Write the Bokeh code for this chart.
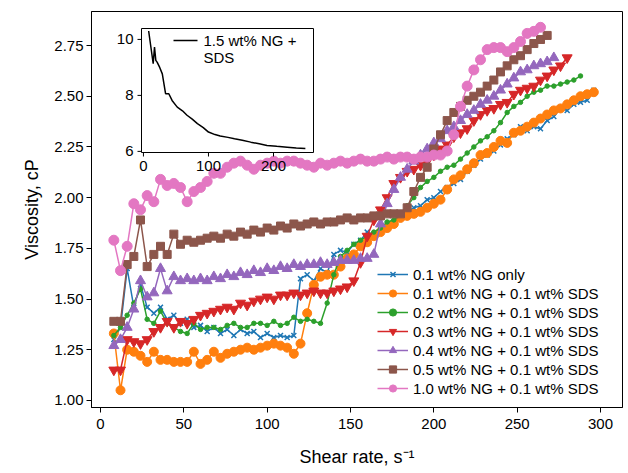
from bokeh.plotting import figure
from bokeh.models import (Range1d, FixedTicker, NumeralTickFormatter, Legend,
                          LegendItem, ColumnDataSource)
from bokeh.core.properties import value
from bokeh.embed import file_html
from bokeh.resources import INLINE

FONT = "Liberation Sans"

# ---------------- data ----------------
shear_rate = [8, 12, 16, 20, 24, 28, 32, 36, 40, 44, 48, 52, 56, 60, 64, 68, 72, 76,
              80, 84, 88, 92, 96, 100, 104, 108, 112, 116, 120, 124, 128, 132, 136,
              140, 144, 148, 152, 156, 160, 164, 168, 172, 176, 180, 184, 188, 192,
              196, 200, 204, 208, 212, 216, 220, 224, 228, 232, 236, 240, 244, 248,
              252, 256, 260, 264, 268, 272, 276, 280, 284, 288, 292, 296]

ng_only = [1.30, 1.36, 1.65, 1.46, 1.57, 1.46, 1.43, 1.46, 1.40, 1.42,
           1.38, 1.40, 1.36, 1.37, 1.34, 1.36, 1.33, 1.35, 1.32, 1.35,
           1.33, 1.34, 1.31, 1.33, 1.31, 1.32, 1.31, 1.32, 1.60, 1.62,
           1.59, 1.65, 1.63, 1.72, 1.74, 1.73, 1.77, 1.79, 1.83, 1.82,
           1.85, 1.87, 1.88, 1.91, 1.93, 1.95, 1.96, 1.99, 2.00, 2.03,
           2.05, 2.07, 2.09, 2.13, 2.16, 2.19, 2.21, 2.23, 2.26, 2.29,
           2.31, 2.35, 2.33, 2.35, 2.34, 2.38, 2.40, 2.44, 2.43, 2.46,
           2.47, 2.48, 2.53]

ng01_sds = [1.33, 1.05, 1.25, 1.24, 1.22, 1.19, 1.24, 1.20, 1.20, 1.19,
            1.19, 1.19, 1.24, 1.18, 1.20, 1.24, 1.21, 1.23, 1.24, 1.25,
            1.26, 1.25, 1.26, 1.27, 1.28, 1.27, 1.26, 1.23, 1.28, 1.43,
            1.57, 1.61, 1.62, 1.62, 1.66, 1.70, 1.72, 1.76, 1.78, 1.81,
            1.83, 1.85, 1.87, 1.90, 1.91, 1.92, 1.93, 1.95, 1.97, 1.99,
            2.04, 2.09, 2.11, 2.14, 2.17, 2.21, 2.22, 2.25, 2.28, 2.27,
            2.32, 2.33, 2.35, 2.37, 2.39, 2.41, 2.43, 2.44, 2.46, 2.48,
            2.50, 2.51, 2.52]

ng02_sds = [1.32, 1.36, 1.42, 1.48, 1.55, 1.40, 1.38, 1.44, 1.38, 1.36,
            1.34, 1.33, 1.38, 1.35, 1.36, 1.36, 1.35, 1.37, 1.38, 1.36,
            1.36, 1.38, 1.38, 1.37, 1.39, 1.37, 1.38, 1.41, 1.39, 1.40,
            1.39, 1.38, 1.48, 1.62, 1.71, 1.74, 1.77, 1.79, 1.81, 1.83,
            1.85, 1.88, 1.89, 1.92, 1.96, 2.00, 2.05, 2.08, 2.10, 2.13,
            2.15, 2.16, 2.19, 2.22, 2.25, 2.28, 2.30, 2.33, 2.37, 2.42,
            2.45, 2.47, 2.50, 2.52, 2.53, 2.55, 2.55, 2.56, 2.57, 2.58,
            2.60]

ng03_sds = [1.15, 1.15, 1.30, 1.29, 1.28, 1.30, 1.34, 1.36, 1.39, 1.36,
            1.39, 1.38, 1.40, 1.42, 1.43, 1.44, 1.45, 1.46, 1.45, 1.48,
            1.47, 1.49, 1.50, 1.51, 1.50, 1.52, 1.52, 1.53, 1.52, 1.53,
            1.54, 1.53, 1.53, 1.54, 1.55, 1.56, 1.59, 1.68, 1.81, 1.89,
            1.94, 2.00, 2.07, 2.10, 2.13, 2.14, 2.16, 2.18, 2.21, 2.24,
            2.26, 2.30, 2.32, 2.34, 2.38, 2.41, 2.43, 2.44, 2.46, 2.47,
            2.51, 2.53, 2.54, 2.55, 2.58, 2.60, 2.63, 2.65, 2.69]

ng04_sds = [1.27, 1.30, 1.36, 1.45, 1.59, 1.51, 1.53, 1.65, 1.54, 1.61,
            1.59, 1.60, 1.59, 1.60, 1.59, 1.61, 1.60, 1.62, 1.61, 1.63,
            1.62, 1.64, 1.63, 1.65, 1.64, 1.66, 1.65, 1.67, 1.66, 1.67,
            1.67, 1.68, 1.67, 1.68, 1.69, 1.69, 1.69, 1.70, 1.70, 1.72,
            1.87, 1.97, 2.04, 2.10, 2.14, 2.18, 2.21, 2.24, 2.27, 2.29,
            2.33, 2.35, 2.38, 2.41, 2.43, 2.46, 2.48, 2.50, 2.53, 2.56,
            2.59, 2.62, 2.63, 2.65, 2.66, 2.67, 2.69]

ng05_sds = [1.39, 1.39, 1.67, 1.71, 1.89, 1.66, 1.72, 1.76, 1.72, 1.82,
            1.77, 1.79, 1.78, 1.79, 1.80, 1.81, 1.80, 1.82, 1.81, 1.83,
            1.82, 1.84, 1.83, 1.85, 1.84, 1.86, 1.85, 1.87, 1.86, 1.87,
            1.88, 1.87, 1.88, 1.88, 1.89, 1.90, 1.89, 1.90, 1.90, 1.91,
            1.91, 1.92, 1.92, 1.92, 1.95, 2.03, 2.10, 2.15, 2.24, 2.31,
            2.38, 2.42, 2.45, 2.48, 2.50, 2.52, 2.55, 2.58, 2.62, 2.65,
            2.68, 2.70, 2.73, 2.76, 2.78, 2.80]

ng10_sds = [1.79, 1.64, 1.76, 1.97, 1.94, 2.01, 1.98, 2.09, 2.06, 2.07,
            2.05, 1.98, 2.03, 2.05, 2.08, 2.12, 2.12, 2.15, 2.17, 2.18,
            2.16, 2.14, 2.16, 2.17, 2.18, 2.17, 2.18, 2.18, 2.17, 2.16,
            2.15, 2.17, 2.16, 2.17, 2.18, 2.17, 2.18, 2.19, 2.18, 2.18,
            2.19, 2.20, 2.19, 2.20, 2.20, 2.19, 2.20, 2.20, 2.21, 2.21,
            2.23, 2.31, 2.45, 2.55, 2.63, 2.68, 2.73, 2.74, 2.74, 2.72,
            2.74, 2.77, 2.81, 2.82, 2.84]

labels = ["0.1 wt% NG only",
          "0.1 wt% NG + 0.1 wt% SDS",
          "0.2 wt% NG + 0.1 wt% SDS",
          "0.3 wt% NG + 0.1 wt% SDS",
          "0.4 wt% NG + 0.1 wt% SDS",
          "0.5 wt% NG + 0.1 wt% SDS",
          "1.0 wt% NG + 0.1 wt% SDS"]

# inset: 1.5 wt% NG + SDS
inset_rate = [8, 11, 15, 17, 19, 21, 25, 29, 34, 39, 44, 52, 60, 67, 75, 83, 92,
              100, 110, 118, 130, 140, 152, 165, 178, 190, 205, 221, 235, 249]
inset_visc = [10.30, 9.80, 9.13, 9.73, 9.25, 9.19, 9.00, 8.77, 8.06, 8.06, 7.82,
              7.58, 7.45, 7.29, 7.15, 6.99, 6.85, 6.69, 6.60, 6.55, 6.50, 6.45,
              6.40, 6.33, 6.27, 6.21, 6.18, 6.15, 6.12, 6.10]
inset_label = ["1.5 wt% NG +", "SDS"]
inset_xticks = [0, 100, 200]
inset_yticks = [6, 8, 10]

x_ticks = [0, 50, 100, 150, 200, 250, 300]
y_ticks = [1.00, 1.25, 1.50, 1.75, 2.00, 2.25, 2.50, 2.75]

# ---------------- styles ----------------
styles = [
    ("#1f77b4", "x", 7),
    ("#ff7f0e", "circle", 9),
    ("#2ca02c", "circle", 4.5),
    ("#d62728", "inverted_triangle", 10),
    ("#9467bd", "triangle", 10),
    ("#8c564b", "square", 8),
    ("#e377c2", "circle", 10),
]
series = [ng_only, ng01_sds, ng02_sds, ng03_sds, ng04_sds, ng05_sds, ng10_sds]

W, H = 628, 473
BL, BR, BT, BB = 91, 6, 11, 66
FW, FH = W - BL - BR, H - BT - BB

p = figure(width=W, height=H, output_backend="svg", toolbar_location=None, tools="",
           x_range=Range1d(-5.4, 313.2), y_range=Range1d(0.965, 2.918),
           min_border_left=BL, min_border_right=BR, min_border_top=BT,
           min_border_bottom=BB)
p.grid.visible = False
p.background_fill_color = "white"
p.border_fill_color = "white"
p.outline_line_color = "black"
p.outline_line_width = 1
p.outline_line_alpha = 1

for ax in (p.xaxis[0], p.yaxis[0]):
    ax.axis_line_color = "black"
    ax.major_tick_line_color = "black"
    ax.major_tick_in = 0
    ax.major_tick_out = 5
    ax.minor_tick_line_color = None
    ax.major_label_text_font = FONT
    ax.major_label_text_font_size = "15px"
    ax.major_label_text_color = "black"
    ax.axis_label_text_font = FONT
    ax.axis_label_text_font_size = "18px"
    ax.axis_label_text_font_style = "normal"
    ax.axis_label_text_color = "black"

p.xaxis.ticker = FixedTicker(ticks=x_ticks)
p.yaxis.ticker = FixedTicker(ticks=y_ticks)
p.yaxis.formatter = NumeralTickFormatter(format="0.00")
p.xaxis.axis_label = "Shear rate, s\u207b\u00b9"
p.yaxis.axis_label = "Viscosity, cP"
p.xaxis.major_label_standoff = 6
p.xaxis.axis_label_standoff = 15
p.yaxis.major_label_standoff = 3
p.yaxis.axis_label_standoff = 9

items = []
for vals, lab, (color, marker, size) in zip(series, labels, styles):
    src = ColumnDataSource(dict(x=shear_rate[:len(vals)], y=vals))
    r1 = p.line("x", "y", source=src, line_color=color, line_width=1.5)
    r2 = p.scatter("x", "y", source=src, marker=marker, size=size,
                   line_color=color, fill_color=color,
                   line_width=1.5 if marker == "x" else 1)
    items.append(LegendItem(label=lab, renderers=[r1, r2]))

legend = Legend(items=items, location=(286, 10), padding=0, margin=0,
                spacing=1, glyph_height=18, label_height=18, glyph_width=31,
                label_standoff=5, label_text_font=FONT,
                label_text_font_size="15px", label_text_color="black",
                border_line_alpha=0, background_fill_alpha=0)
p.add_layout(legend)

# ---------------- inset (own ranges mapped onto a sub-box of the frame) ----------------
ix0, ix1 = -3.0, 261.5
iy0, iy1 = 5.96, 10.39
# inset box in frame pixels: left, right from frame left; bottom, top from frame bottom
IL, IR, IB, IT = 50, 222, 255, 379
kx = (ix1 - ix0) / (IR - IL)
ky = (iy1 - iy0) / (IT - IB)
p.extra_x_ranges = {"ix": Range1d(ix0 - IL * kx, ix1 + (FW - IR) * kx)}
p.extra_y_ranges = {"iy": Range1d(iy0 - IB * ky, iy1 + (FH - IT) * ky)}
R = dict(x_range_name="ix", y_range_name="iy")

p.quad(left=ix0, right=ix1, bottom=iy0, top=iy1, fill_color="white",
       line_color="black", line_width=1, **R)
p.line(inset_rate, inset_visc, line_color="black", line_width=1.5, **R)

tick_len = 4
p.segment(x0=[ix0] * len(inset_yticks), y0=inset_yticks,
          x1=[ix0 - tick_len * kx] * len(inset_yticks), y1=inset_yticks,
          line_color="black", line_width=1, **R)
p.segment(x0=inset_xticks, y0=[iy0] * len(inset_xticks),
          x1=inset_xticks, y1=[iy0 - tick_len * ky] * len(inset_xticks),
          line_color="black", line_width=1, **R)
p.text(x=[ix0] * len(inset_yticks), y=inset_yticks,
       text=[str(t) for t in inset_yticks], x_offset=-8,
       text_align="right", text_baseline="middle", text_font=value(FONT),
       text_font_size="15px", text_color="black", **R)
p.text(x=inset_xticks, y=[iy0] * len(inset_xticks),
       text=[str(t) for t in inset_xticks], y_offset=8,
       text_align="center", text_baseline="top", text_font=value(FONT),
       text_font_size="15px", text_color="black", **R)

# inset legend (pixel positions within inset box converted to inset coordinates)
def ipx(px):  # px from inset left
    return ix0 + px * kx

def ipy(py):  # py from inset top
    return iy1 - py * ky

p.line([ipx(32), ipx(56)], [ipy(12), ipy(12)], line_color="black", line_width=1.5, **R)
p.text(x=[ipx(62)] * 2, y=[ipy(12), ipy(29)], text=inset_label,
       text_align="left", text_baseline="middle", text_font=value(FONT),
       text_font_size="15px", text_color="black", **R)

open("out.html", "w").write(file_html(p, INLINE))
